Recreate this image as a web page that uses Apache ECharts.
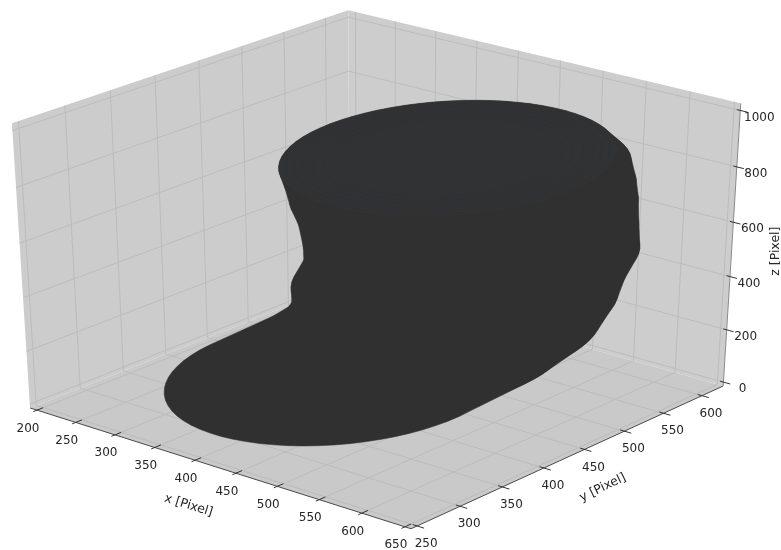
<!DOCTYPE html>
<html><head><meta charset="utf-8">
<script src="https://cdn.jsdelivr.net/npm/echarts@6/dist/echarts.min.js"></script>
<style>html,body{margin:0;background:#fff}#c{width:781px;height:550px;filter:blur(0.4px)}</style>
</head><body><div id="c"></div>
<script>
// ---- axis data
const xTicks=[200,250,300,350,400,450,500,550,600,650];
const yTicks=[250,300,350,400,450,500,550,600];
const zTicks=[0,200,400,600,800,1000];
const xLim=[191,657], yLim=[243,628], zLim=[-15,1025];
const axisTitles=['x [Pixel]','y [Pixel]','z [Pixel]'];
// ---- stacked cross-sections of the surface (pixel units of the plot's axes)
const sliceZ      =[0,100,200,300,400,500,600,700,800,900,1000];
const sliceCenterX=[367,406,437,452,463,480,487,491,505,516,539];
const sliceCenterY=[441,483,497,502,495,493,484,476,455,437,402];
const sliceRadiusU=[150,146,142,141,144,143,142,143,144,143,137];
const sliceRadiusV=[159,158,158,156,152,150,150,150,150,148,147];
const rimRingScale=[0.96,0.91,0.86,0.8,0.74,0.68];

// camera: box corners as photographed, used to fit the perspective projection
const corners=[[0,0,0,30,409],[1,0,0,411,528],[1,1,0,723,387],[0,1,0,350,280],
               [0,0,1,12,123],[1,1,1,741,103],[0,1,1,348,11]];
function fit(){
  const A=[],B=[];
  corners.forEach(([u,v,w,p,q])=>{
    A.push([u,v,w,1,0,0,0,0,-p*u,-p*v,-p*w]);B.push(p);
    A.push([0,0,0,0,u,v,w,1,-q*u,-q*v,-q*w]);B.push(q);
  });
  const n=11,N=[];
  for(let i=0;i<n;i++){N[i]=[];for(let j=0;j<=n;j++){let s=0;
    for(let k=0;k<A.length;k++) s+=A[k][i]*(j<n?A[k][j]:B[k]);N[i][j]=s;}}
  for(let i=0;i<n;i++){let m=i;for(let r=i+1;r<n;r++) if(Math.abs(N[r][i])>Math.abs(N[m][i])) m=r;
    [N[i],N[m]]=[N[m],N[i]];
    for(let r=0;r<n;r++) if(r!==i){const f=N[r][i]/N[i][i];for(let c=i;c<=n;c++) N[r][c]-=f*N[i][c];}}
  return N.map((r,i)=>r[n]/r[i]);
}
const P=fit();
function proj(x,y,z){
  const u=(x-xLim[0])/(xLim[1]-xLim[0]),v=(y-yLim[0])/(yLim[1]-yLim[0]),w=(z-zLim[0])/(zLim[1]-zLim[0]);
  const d=P[8]*u+P[9]*v+P[10]*w+1;
  return [(P[0]*u+P[1]*v+P[2]*w+P[3])/d,(P[4]*u+P[5]*v+P[6]*w+P[7])/d];
}
function outline(i,scale){
  const pts=[],s=Math.SQRT1_2*(scale||1);
  for(let k=0;k<72;k++){const t=k/72*2*Math.PI,a=sliceRadiusU[i]*Math.cos(t)*s,b=sliceRadiusV[i]*Math.sin(t)*s;
    pts.push(proj(sliceCenterX[i]+a+b,sliceCenterY[i]+a-b,sliceZ[i]));}
  return pts;
}
function hull(points){
  const p=points.slice().sort((a,b)=>a[0]-b[0]||a[1]-b[1]);
  const cr=(o,a,b)=>(a[0]-o[0])*(b[1]-o[1])-(a[1]-o[1])*(b[0]-o[0]);
  const lo=[],up=[];
  for(const q of p){while(lo.length>1&&cr(lo[lo.length-2],lo[lo.length-1],q)<=0)lo.pop();lo.push(q);}
  for(let i=p.length-1;i>=0;i--){const q=p[i];while(up.length>1&&cr(up[up.length-2],up[up.length-1],q)<=0)up.pop();up.push(q);}
  lo.pop();up.pop();return lo.concat(up);
}
const FONT='DejaVu Sans';
const chart=echarts.init(document.getElementById('c'));
const toPix=(api,pts)=>pts.map(p=>api.coord(p));
const line=(api,a,b,stroke,w)=>{const A=api.coord(a),B=api.coord(b);
  return {type:'line',shape:{x1:A[0],y1:A[1],x2:B[0],y2:B[1]},style:{stroke,lineWidth:w}};};
const label=(api,p,dx,dy,text,rot,size)=>{const c=api.coord([p[0]+dx,p[1]+dy]);
  return {type:'text',x:c[0],y:c[1],rotation:rot||0,style:{text,fill:'#262626',font:(size||12)+'px "'+FONT+'"',align:'center',verticalAlign:'middle'}};};

const [x0,x1]=xLim,[y0,y1]=yLim,[z0,z1]=zLim;
const panes=[
 {c:'#cccccc',q:[[x0,y0,z0],[x0,y1,z0],[x0,y1,z1],[x0,y0,z1]]},
 {c:'#cdcdcd',q:[[x0,y1,z0],[x1,y1,z0],[x1,y1,z1],[x0,y1,z1]]},
 {c:'#c9c9c9',q:[[x0,y0,z0],[x1,y0,z0],[x1,y1,z0],[x0,y1,z0]]}];
const GRID='#bcbcbc';
const grids=[];
xTicks.forEach(x=>{grids.push([[x,y0,z0],[x,y1,z0]]);grids.push([[x,y1,z0],[x,y1,z1]]);});
yTicks.forEach(y=>{grids.push([[x0,y,z0],[x1,y,z0]]);grids.push([[x0,y,z0],[x0,y,z1]]);});
zTicks.forEach(z=>{grids.push([[x0,y0,z],[x0,y1,z]]);grids.push([[x0,y1,z],[x1,y1,z]]);});

const custom=(name,data,fn)=>({type:'custom',name,coordinateSystem:'cartesian2d',data,clip:false,silent:true,animation:false,
  encode:{x:0,y:1},renderItem:(params,api)=>fn(data[params.dataIndex],api,params.dataIndex)});
const idx=a=>a.map((_,i)=>[i,i]);
const TOP=sliceZ.length-1;

chart.setOption({animation:false,
 grid:{left:0,right:0,top:0,bottom:0},
 xAxis:{type:'value',min:0,max:781,show:false},
 yAxis:{type:'value',min:0,max:550,inverse:true,show:false},
 tooltip:{show:false},
 series:[
  custom('panes',idx(panes),(d,api)=>({type:'polygon',shape:{points:toPix(api,panes[d[0]].q.map(p=>proj(...p)))},style:{fill:panes[d[0]].c}})),
  custom('grid',idx(grids),(d,api)=>{const g=grids[d[0]];return line(api,proj(...g[0]),proj(...g[1]),GRID,1);}),
  custom('body',idx(sliceZ).slice(0,-1),(d,api)=>{const i=d[0];
     return {type:'polygon',shape:{points:toPix(api,hull(outline(i).concat(outline(i+1))))},style:{fill:'#303030',stroke:'#303030',lineWidth:0.5}};}),
  custom('top',[[0,0]],(d,api)=>({type:'polygon',shape:{points:toPix(api,outline(TOP))},style:{fill:'#303234'}})),
  custom('rim',idx(rimRingScale),(d,api)=>({type:'polygon',shape:{points:toPix(api,outline(TOP,rimRingScale[d[0]]))},style:{fill:'none',stroke:'#2d2f31',lineWidth:0.8,opacity:0.4}})),
  custom('axes',[[0,0],[1,1],[2,2]],(d,api)=>{const s=[[[x0,y0,z0],[x1,y0,z0],'#4a4a4a'],[[x1,y0,z0],[x1,y1,z0],'#4a4a4a'],[[x1,y1,z0],[x1,y1,z1],'#8a8a8a']][d[0]];
     return line(api,proj(...s[0]),proj(...s[1]),s[2],1);}),
  custom('xTicks',idx(xTicks),(d,api)=>{const x=xTicks[d[0]],p=proj(x,y0+7,z0),q=proj(x,y0-4,z0),t=proj(x,y0,z0);
     return {type:'group',children:[line(api,p,q,'#333',1),label(api,t,-9,18.5,String(x))]};}),
  custom('yTicks',idx(yTicks),(d,api)=>{const y=yTicks[d[0]],p=proj(x1-5,y,z0),q=proj(x1+8,y,z0),t=proj(x1,y,z0);
     return {type:'group',children:[line(api,p,q,'#333',1),label(api,t,9,18,String(y))]};}),
  custom('zTicks',idx(zTicks),(d,api)=>{const z=zTicks[d[0]],p=proj(x1-4,y1,z),q=proj(x1+8,y1,z),t=proj(x1,y1,z);
     return {type:'group',children:[line(api,p,q,'#333',1),label(api,t,19,7,String(z))]};}),
  custom('titles',[[0,0],[1,1],[2,2]],(d,api)=>{
     const m=[proj((x0+x1)/2,y0,z0),proj(x1,(y0+y1)/2,z0),proj(x1,y1,(z0+z1)/2)][d[0]];
     const o=[[-26,39,-0.3],[30,33,0.45],[44,3,Math.PI/2]][d[0]];
     return label(api,m,o[0],o[1],axisTitles[d[0]],o[2],12.5);})
 ]});
</script></body></html>
